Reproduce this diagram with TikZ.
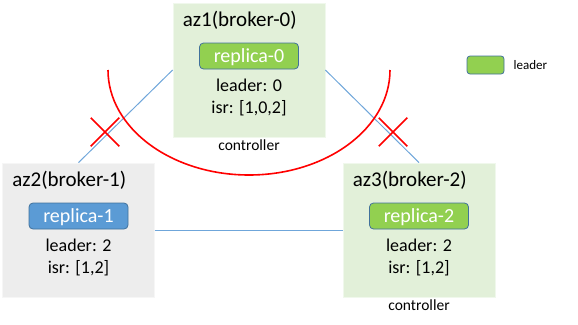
\documentclass[tikz,border=0pt]{standalone}
\usepackage{fontspec}
\setmainfont{Carlito}
\usepackage{tikz}
\usetikzlibrary{positioning,shapes.misc}
\definecolor{azgreen}{HTML}{E2F0D9}
\definecolor{azgray}{HTML}{EDEDED}
\definecolor{repgreen}{HTML}{92D050}
\definecolor{repblue}{HTML}{5B9BD5}
\definecolor{repedge}{HTML}{41719C}
\definecolor{lnkblue}{HTML}{6FA6DA}
\tikzset{
  az/.style={rectangle,minimum width=152pt,minimum height=134pt,inner sep=0pt,line width=0.8pt},
  ttl/.style={inner sep=0pt,text height=14pt,text depth=5pt,font=\fontsize{21}{25}\selectfont},
  rep/.style={rectangle,draw=repedge,line width=0.8pt,rounded corners=4pt,minimum width=99pt,minimum height=26pt,inner sep=0pt,text height=13pt,text depth=0pt,text=white,font=\fontsize{20}{24}\selectfont},
  txt/.style={inner sep=0pt,text height=12pt,text depth=4pt,font=\fontsize{18}{22}\selectfont},
  ctl/.style={inner sep=0pt,text height=11pt,text depth=3pt,font=\fontsize{15.5}{18}\selectfont},
  lnk/.style={draw=lnkblue,line width=1pt},
  cut/.style={draw=red,line width=1.5pt,cross out,minimum size=27pt,inner sep=0pt},
}

\begin{document}
\begin{tikzpicture}[x=1pt,y=-1pt]
  \useasboundingbox (0,0) rectangle (578,324);
  % brokers
  \node[az,fill=azgreen,draw=azgreen!50!white] (az1) at (249,70) {};
  \node[az,fill=azgray,draw=azgray!50!white] (az2) at (78.5,230) {};
  \node[az,fill=azgreen,draw=azgreen!50!white] (az3) at (419,230) {};
  \node[ttl,below right=10pt and 10pt of az1.north west] (t1) {az1(broker-0)};
  \node[ttl,below right=10pt and 10pt of az2.north west] (t2) {az2(broker-1)};
  \node[ttl,below right=10pt and 10pt of az3.north west] (t3) {az3(broker-2)};
  \node[rep,fill=repgreen,below=40pt of az1.north] (r0) {replica-0};
  \node[rep,fill=repblue,below=40pt of az2.north] (r1) {replica-1};
  \node[rep,fill=repgreen,below=40pt of az3.north] (r2) {replica-2};
  \node[txt,below=10pt of r0] (l0) {leader: 0};
  \node[txt,below=5pt of l0] (i0) {isr: [1,0,2]};
  \node[txt,below=10pt of r1] (l1) {leader: 2};
  \node[txt,below=5pt of l1] (i1) {isr: [1,2]};
  \node[txt,below=10pt of r2] (l2) {leader: 2};
  \node[txt,below=5pt of l2] (i2) {isr: [1,2]};
  \node[ctl,below=2pt of az1] (c1) {controller};
  \node[ctl,below=2pt of az3] (c3) {controller};
  % links
  \draw[lnk] (az2.north) -- (az1.west);
  \draw[lnk] (az1.east) -- (az3.north);
  \draw[lnk] (az2.east) -- (az3.west);
  % partition
  \draw[red,line width=1.6pt] (az1.center) ++(-141pt,0pt) arc[start angle=180,end angle=360,x radius=141pt,y radius=105pt];
  \node[cut] (xl) at (105,132) {};
  \node[cut] (xr) at (393,132) {};
  % legend
  \node[rep,fill=repgreen,rounded corners=3pt,minimum width=37pt,minimum height=18pt] (lgd) at (485.5,65) {};
  \node[inner sep=0pt,font=\fontsize{13}{15}\selectfont,right=9pt of lgd] (lgdt) {leader};
\end{tikzpicture}
\end{document}
